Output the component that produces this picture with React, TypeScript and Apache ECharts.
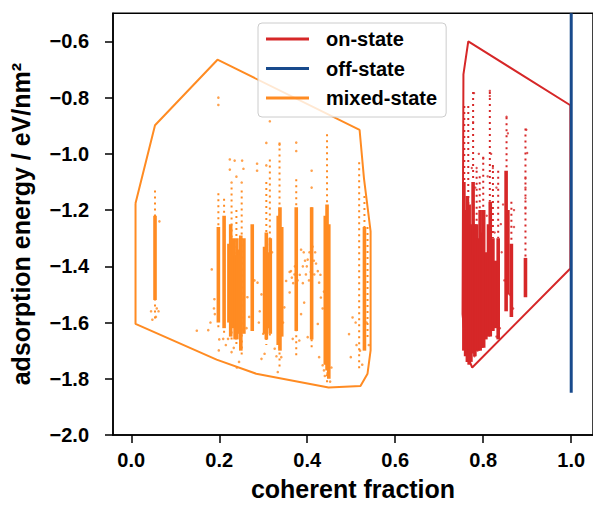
import React, { useEffect, useRef } from "react";
import * as echarts from "echarts";

const xTicks = [0.0, 0.2, 0.4, 0.6, 0.8, 1.0];
const yTicks = [-2.0, -1.8, -1.6, -1.4, -1.2, -1.0, -0.8, -0.6];

// convex hull outlines
const mixedHull: [number, number][] = [
  [0.0097, -1.176], [0.054, -0.898], [0.196, -0.665], [0.519, -0.915], [0.529, -1.088],
  [0.544, -1.276], [0.544, -1.699], [0.537, -1.782], [0.521, -1.826], [0.4485, -1.831],
  [0.284, -1.782], [0.194, -1.732], [0.0097, -1.605], [0.0097, -1.176],
];
const onHull: [number, number][] = [
  [0.755, -0.717], [0.766, -0.6], [0.998, -0.827], [0.998, -1.408], [0.775, -1.76],
  [0.762, -1.711], [0.753, -1.57], [0.755, -0.717],
];
const offLine: [number, number][] = [[1.0, -0.5], [1.0, -1.85]];

// dense runs of points: [x, top, bottom]
const mixedDense: [number, number, number][] = [
  [0.054, -1.22, -1.52], [0.198, -1.26, -1.60], [0.211, -1.22, -1.62], [0.222, -1.32, -1.60],
  [0.226, -1.25, -1.65], [0.232, -1.30, -1.62], [0.236, -1.36, -1.66], [0.240, -1.30, -1.66],
  [0.245, -1.34, -1.64], [0.249, -1.29, -1.70], [0.256, -1.30, -1.64], [0.275, -1.25, -1.63],
  [0.303, -1.33, -1.64], [0.307, -1.28, -1.66], [0.311, -1.35, -1.62], [0.316, -1.30, -1.64],
  [0.334, -1.22, -1.68], [0.338, -1.19, -1.70], [0.342, -1.26, -1.65], [0.375, -1.19, -1.63],
  [0.410, -1.19, -1.66], [0.441, -1.22, -1.75], [0.445, -1.18, -1.77], [0.449, -1.25, -1.80],
  [0.530, -1.26, -1.70],
];
// sparse runs of points: [x, top, bottom]
const mixedSparse: [number, number, number][] = [
  [0.054, -1.13, -1.59], [0.198, -1.14, -1.62], [0.211, -1.16, -1.64], [0.228, -1.12, -1.66],
  [0.239, -1.20, -1.68], [0.251, -1.13, -1.72], [0.307, -1.10, -1.68], [0.315, -1.02, -1.66],
  [0.337, -0.96, -1.76], [0.375, -1.09, -1.72], [0.410, -1.19, -1.69], [0.445, -0.93, -1.82],
  [0.518, -1.03, -1.77], [0.530, -1.15, -1.70], [0.537, -1.26, -1.66],
];
const mixedPoints: [number, number][] = [
  [0.198, -0.800], [0.198, -0.826], [0.315, -0.884], [0.307, -0.961], [0.337, -0.967], [0.307, -1.041],
  [0.224, -1.020], [0.235, -1.024], [0.252, -1.024], [0.224, -1.056], [0.255, -1.053], [0.239, -1.081],
  [0.228, -1.102], [0.251, -1.102], [0.286, -1.035], [0.286, -1.06], [0.375, -0.96], [0.375, -0.99],
  [0.410, -1.06], [0.41, -1.12], [0.045, -1.56], [0.062, -1.56], [0.048, -1.59], [0.056, -1.58],
  [0.058, -1.55], [0.064, -1.24], [0.149, -1.629], [0.183, -1.411], [0.189, -1.517], [0.19, -1.57],
  [0.175, -1.627], [0.199, -1.699], [0.209, -1.658], [0.22, -1.658], [0.228, -1.705], [0.18, -1.6],
  [0.188, -1.55], [0.2, -1.66], [0.215, -1.68], [0.233, -1.69], [0.245, -1.74], [0.24, -1.76],
  [0.363, -1.417], [0.371, -1.429], [0.386, -1.341], [0.401, -1.376], [0.416, -1.429], [0.424, -1.417],
  [0.397, -1.429], [0.427, -1.458], [0.431, -1.511], [0.424, -1.605], [0.401, -1.652], [0.382, -1.664],
  [0.367, -1.658], [0.36, -1.493], [0.352, -1.452], [0.287, -1.458], [0.296, -1.729], [0.303, -1.711],
  [0.326, -1.693], [0.333, -1.776], [0.341, -1.723], [0.427, -1.723], [0.435, -1.752], [0.495, -1.641],
  [0.499, -1.723], [0.503, -1.582], [0.386, -1.57], [0.393, -1.529], [0.348, -1.546], [0.39, -1.40],
  [0.395, -1.38], [0.405, -1.35], [0.412, -1.33], [0.418, -1.35], [0.42, -1.39], [0.372, -1.40],
  [0.365, -1.44], [0.378, -1.45], [0.39, -1.46], [0.43, -1.43], [0.438, -1.49], [0.435, -1.55],
  [0.44, -1.79], [0.452, -1.81], [0.446, -1.78], [0.455, -1.76], [0.438, -1.77], [0.32, -1.35],
  [0.33, -1.72], [0.345, -1.60], [0.28, -1.45], [0.29, -1.60], [0.3, -1.64], [0.262, -1.62],
  [0.268, -1.58], [0.52, -1.70], [0.525, -1.75], [0.512, -1.68], [0.51, -1.60], [0.54, -1.68],
  [0.535, -1.60], [0.399, -1.40], [0.408, -1.42], [0.415, -1.38], [0.404, -1.45], [0.392, -1.35],
  [0.383, -1.43], [0.368, -1.46], [0.36, -1.42], [0.296, -1.50], [0.292, -1.56], [0.264, -1.51],
];

const onDense: [number, number, number][] = [
  [0.756, -1.10, -1.70], [0.760, -1.20, -1.72], [0.764, -1.15, -1.74], [0.768, -1.18, -1.75],
  [0.772, -1.25, -1.74], [0.777, -1.10, -1.71], [0.781, -1.25, -1.72], [0.785, -1.25, -1.70],
  [0.789, -1.30, -1.70], [0.793, -1.20, -1.70], [0.797, -1.28, -1.69], [0.801, -1.20, -1.69],
  [0.806, -1.35, -1.66], [0.812, -1.25, -1.65], [0.816, -1.17, -1.65], [0.822, -1.30, -1.63],
  [0.828, -1.38, -1.62], [0.834, -1.30, -1.66], [0.852, -1.06, -1.56], [0.856, -1.20, -1.50],
  [0.864, -1.32, -1.58], [0.896, -1.37, -1.51],
];
const onSparse: [number, number, number][] = [
  [0.757, -0.83, -1.10], [0.766, -0.83, -1.20], [0.777, -0.78, -1.10], [0.792, -1.08, -1.20],
  [0.800, -1.01, -1.20], [0.815, -0.78, -1.17], [0.822, -1.04, -1.30], [0.834, -1.06, -1.30],
  [0.853, -0.87, -1.06], [0.864, -1.17, -1.32], [0.896, -0.91, -1.37], [0.785, -1.06, -1.25],
];
const onPoints: [number, number][] = [
  [0.779, -0.784], [0.815, -0.776], [0.815, -0.794], [0.777, -0.887], [0.853, -0.868], [0.856, -0.927],
  [0.898, -0.914], [0.9, -0.997], [0.80, -1.017], [0.818, -1.0], [0.822, -1.05], [0.896, -1.088],
  [0.896, -1.12], [0.896, -1.158], [0.896, -1.194], [0.79, -1.0], [0.785, -1.05], [0.81, -1.08],
  [0.83, -1.12], [0.84, -1.25], [0.845, -1.18], [0.87, -1.2], [0.87, -1.26], [0.86, -1.5],
  [0.868, -1.55], [0.838, -1.62], [0.83, -1.65], [0.78, -1.72], [0.787, -1.70], [0.765, -1.70],
  [0.774, -1.05], [0.782, -1.12], [0.808, -1.22], [0.826, -1.28], [0.842, -1.35], [0.848, -1.45],
];

const ORANGE = "#ff8b22";
const RED = "#d62728";
const BLUE = "#184a8c";
const FONT = "'Liberation Sans', Arial, sans-serif";

const fmt = (v: number) => v.toFixed(1).replace("-", "\u2212");

function denseSeries(name: string, data: [number, number, number][], color: string) {
  return {
    type: "custom",
    name,
    data,
    clip: true,
    encode: { x: 0, y: [1, 2] },
    renderItem: (_p: any, api: any) => {
      const a = api.coord([api.value(0), api.value(1)]);
      const b = api.coord([api.value(0), api.value(2)]);
      return {
        type: "rect",
        shape: { x: a[0] - 1.8, y: a[1], width: 3.6, height: b[1] - a[1] },
        style: { fill: color },
      };
    },
  };
}
function sparseSeries(name: string, data: [number, number, number][], color: string) {
  return {
    type: "custom",
    name,
    data,
    clip: true,
    encode: { x: 0, y: [1, 2] },
    renderItem: (_p: any, api: any) => {
      const a = api.coord([api.value(0), api.value(1)]);
      const b = api.coord([api.value(0), api.value(2)]);
      return {
        type: "line",
        shape: { x1: a[0], y1: a[1], x2: b[0], y2: b[1] },
        style: { stroke: color, lineWidth: 2, lineDash: [2, 4], fill: null },
      };
    },
  };
}

export default function App() {
  const ref = useRef<HTMLDivElement>(null);
  useEffect(() => {
    if (!ref.current) return;
    const chart = echarts.init(ref.current, undefined, { renderer: "svg" });
    chart.setOption({
      animation: false,
      backgroundColor: "#fff",
      textStyle: { fontFamily: FONT },
      grid: {
        left: 110.9, top: 13.3, width: 482.3, height: 425,
        show: true, borderColor: "#000", borderWidth: 1.5, backgroundColor: "transparent",
      },
      legend: {
        data: ["on-state", "off-state", "mixed-state"],
        orient: "vertical",
        left: 258, top: 23,
        padding: [5, 9, 8, 8],
        itemGap: 7.5,
        itemWidth: 43, itemHeight: 3,
        icon: "rect",
        backgroundColor: "rgba(255,255,255,0.8)",
        borderColor: "#cccccc", borderWidth: 1, borderRadius: 4,
        textStyle: { fontFamily: FONT, fontSize: 20, fontWeight: "bold", color: "#000", lineHeight: 22, padding: [0, 0, 0, 12] },
      },
      xAxis: {
        type: "value", min: -0.0415, max: 1.0495,
        name: "coherent fraction", nameLocation: "middle", nameGap: 41,
        nameTextStyle: { fontFamily: FONT, fontSize: 25, fontWeight: "bold", color: "#000" },
        axisLine: { show: true, onZero: false, lineStyle: { color: "#000", width: 1.5 } },
        axisTick: { show: true, length: 8, lineStyle: { color: "#000", width: 1.5 }, customValues: xTicks },
        axisLabel: { customValues: xTicks, formatter: (v: number) => fmt(v), fontFamily: FONT, fontSize: 20, fontWeight: "bold", color: "#000", margin: 15 },
        splitLine: { show: false },
      },
      yAxis: {
        type: "value", min: -2.0, max: -0.5,
        name: "adsorption energy / eV/nm\u00b2", nameLocation: "middle", nameGap: 80,
        nameTextStyle: { fontFamily: FONT, fontSize: 25, fontWeight: "bold", color: "#000" },
        axisLine: { show: true, onZero: false, lineStyle: { color: "#000", width: 1.5 } },
        axisTick: { show: true, length: 8, lineStyle: { color: "#000", width: 1.5 }, customValues: yTicks },
        axisLabel: { customValues: yTicks, formatter: (v: number) => fmt(v), fontFamily: FONT, fontSize: 20, fontWeight: "bold", color: "#000", margin: 24 },
        splitLine: { show: false },
      },
      series: [
        sparseSeries("mixed-sparse", mixedSparse, ORANGE),
        denseSeries("mixed-dense", mixedDense, ORANGE),
        { type: "scatter", name: "mixed-points", data: mixedPoints, symbolSize: 2.6, itemStyle: { color: ORANGE } },
        sparseSeries("on-sparse", onSparse, RED),
        denseSeries("on-dense", onDense, RED),
        { type: "scatter", name: "on-points", data: onPoints, symbolSize: 2.4, itemStyle: { color: RED } },
        { type: "line", name: "on-state", data: onHull, color: RED, showSymbol: false, symbol: "none", lineStyle: { width: 2, color: RED } },
        { type: "line", name: "mixed-state", data: mixedHull, color: ORANGE, showSymbol: false, symbol: "none", lineStyle: { width: 2, color: ORANGE } },
        { type: "line", name: "off-state", data: offLine, color: BLUE, showSymbol: false, symbol: "none", lineStyle: { width: 3, color: BLUE } },
      ],
    });
    return () => chart.dispose();
  }, []);
  return <div ref={ref} style={{ position: "fixed", left: 0, top: 0, width: 593, height: 506 }} />;
}
